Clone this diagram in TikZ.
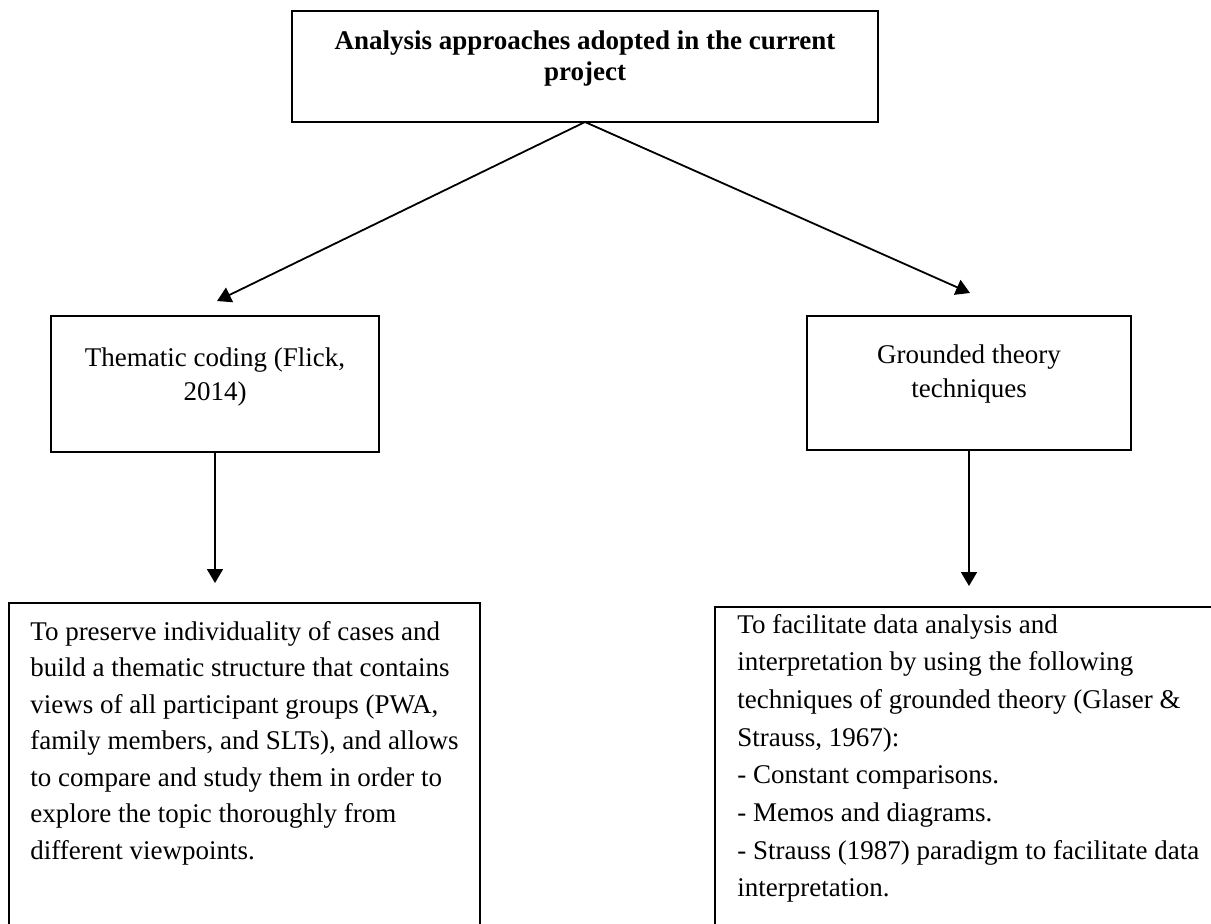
\documentclass[tikz,border=0pt]{standalone}
\usepackage{fontspec}
\setmainfont{Liberation Serif}
\usetikzlibrary{arrows.meta}
\begin{document}
\begin{tikzpicture}[x=0.5pt,y=-0.5pt,
  box/.style={draw, line width=1.1pt, rectangle, inner sep=0pt, outer sep=0pt},
  link/.style={line width=0.9pt, -{Triangle[length=7pt,width=8pt]}},
  ttl/.style={inner sep=0pt, anchor=base, font=\fontsize{13.5pt}{15.5pt}\selectfont\bfseries},
  midtxt/.style={inner sep=0pt, anchor=base, font=\fontsize{13.5pt}{17pt}\selectfont},
  bodyl/.style={inner sep=0pt, anchor=base west, font=\fontsize{13.5pt}{18.25pt}\selectfont},
  bodyr/.style={inner sep=0pt, anchor=base west, font=\fontsize{13.5pt}{18.85pt}\selectfont}]
\useasboundingbox (0,0) rectangle (1211,923);
\clip (0,0) rectangle (1211,923);

% boxes
\node[box, minimum width=293pt, minimum height=55.5pt] (top) at (585,66.5) {};
\node[box, minimum width=164pt, minimum height=68pt] (thematic) at (215,384) {};
\node[box, minimum width=162pt, minimum height=67pt] (grounded) at (969,383) {};
\node[box, minimum width=235.5pt, minimum height=188.5pt] (aimL) at (244.5,791.5) {};
\node[box, minimum width=272.5pt, minimum height=186.5pt] (aimR) at (987.5,793.5) {};

% texts
\node[ttl] (ttltext) at (585,49) {\parbox[t]{290pt}{\centering Analysis approaches adopted in the current\\project}};
\node[midtxt] (thtext) at (215,366) {\parbox[t]{160pt}{\centering Thematic coding (Flick,\\2014)}};
\node[midtxt] (grtext) at (969,363) {\parbox[t]{160pt}{\centering Grounded theory\\techniques}};
\node[bodyl] (aimLtext) at (30,640) {\parbox[t]{230pt}{\raggedright
To preserve individuality of cases and\\
build a thematic structure that contains\\
views of all participant groups (PWA,\\
family members, and SLTs), and allows\\
to compare and study them in order to\\
explore the topic thoroughly from\\
different viewpoints.}};
\node[bodyr] (aimRtext) at (737,633) {\parbox[t]{240pt}{\raggedright
To facilitate data analysis and\\
interpretation by using the following\\
techniques of grounded theory (Glaser \&\\
Strauss, 1967):\\
- Constant comparisons.\\
- Memos and diagrams.\\
- Strauss (1987) paradigm to facilitate data\\
interpretation.}};

% connectors
\coordinate (tipA) at (217,301);
\coordinate (tipB) at (970,293);
\coordinate (tipC) at (215,583);
\coordinate (tipD) at (969,586);
\draw[link] (top.south) -- (tipA);
\draw[link] (top.south) -- (tipB);
\draw[link] (thematic.south) -- (tipC);
\draw[link] (grounded.south) -- (tipD);
\end{tikzpicture}
\end{document}
